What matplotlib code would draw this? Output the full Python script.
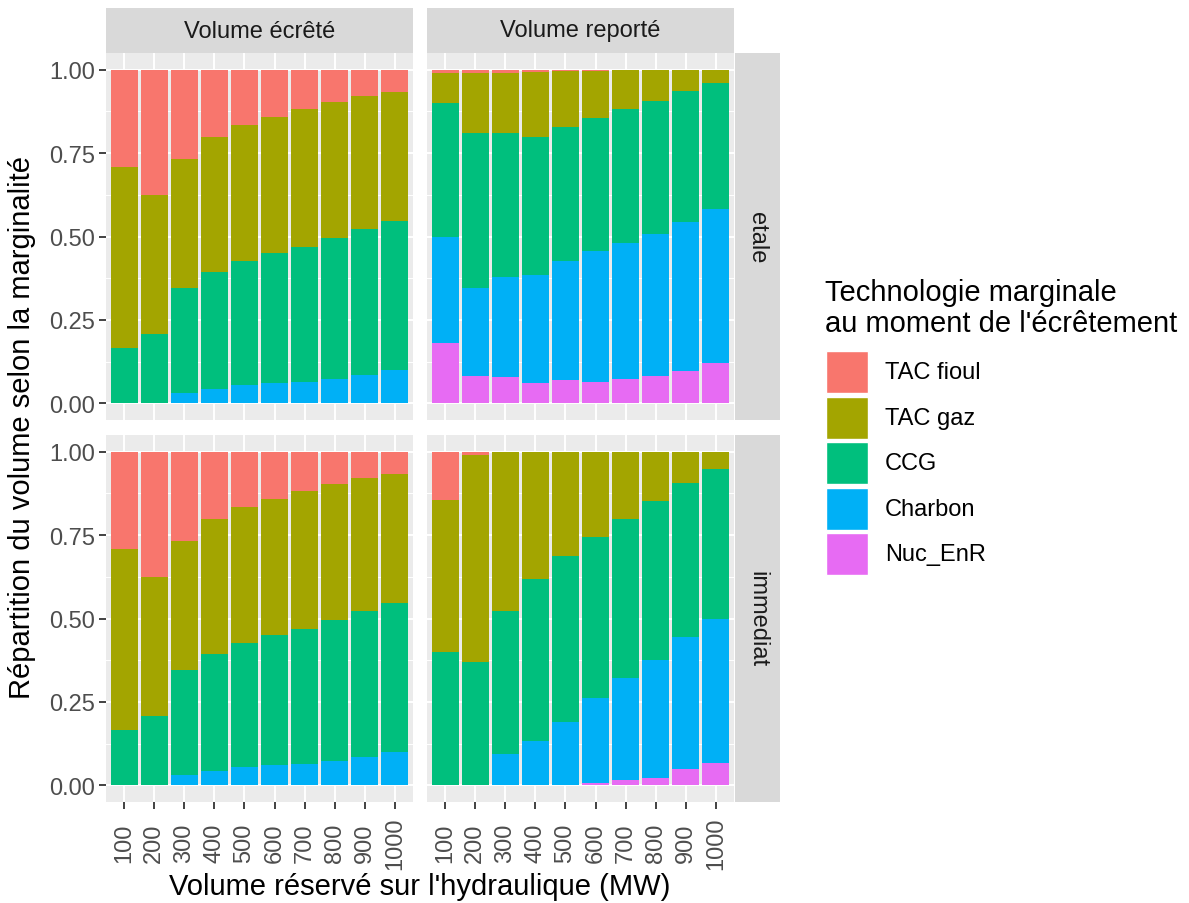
import numpy as np
import matplotlib
matplotlib.use("Agg")
import matplotlib.pyplot as plt
from matplotlib.patches import Rectangle

plt.rcParams['font.family'] = ['Liberation Sans', 'DejaVu Sans']

volumes = ['100', '200', '300', '400', '500', '600', '700', '800', '900', '1000']
technos = ['TAC fioul', 'TAC gaz', 'CCG', 'Charbon', 'Nuc_EnR']
colors = {'TAC fioul': '#F8766D', 'TAC gaz': '#A3A500', 'CCG': '#00BF7D',
          'Charbon': '#00B0F6', 'Nuc_EnR': '#E76BF3'}
columns = ['Volume écrêté', 'Volume reporté']
rows = ['etale', 'immediat']

# shares per technology
ecrete_fioul = [0.292, 0.375, 0.268, 0.203, 0.165, 0.141, 0.118, 0.097, 0.079, 0.067]
ecrete_gaz = [0.541, 0.416, 0.385, 0.402, 0.407, 0.409, 0.412, 0.406, 0.400, 0.387]
ecrete_ccg = [0.167, 0.209, 0.317, 0.351, 0.373, 0.389, 0.405, 0.423, 0.435, 0.447]
ecrete_charbon = [0.0, 0.0, 0.030, 0.044, 0.055, 0.061, 0.065, 0.074, 0.086, 0.099]
ecrete_nuc = [0.0] * 10

etale_rep_fioul = [0.009, 0.009, 0.009, 0.006, 0.004, 0.003, 0.0, 0.0, 0.0, 0.0]
etale_rep_gaz = [0.091, 0.182, 0.182, 0.195, 0.167, 0.141, 0.119, 0.094, 0.064, 0.040]
etale_rep_ccg = [0.402, 0.463, 0.429, 0.413, 0.403, 0.398, 0.400, 0.400, 0.394, 0.377]
etale_rep_charbon = [0.318, 0.265, 0.301, 0.324, 0.357, 0.393, 0.408, 0.425, 0.446, 0.461]
etale_rep_nuc = [0.180, 0.081, 0.079, 0.062, 0.069, 0.065, 0.073, 0.081, 0.096, 0.122]

immed_rep_fioul = [0.146, 0.010, 0.002, 0.0, 0.0, 0.001, 0.0, 0.0, 0.0, 0.0]
immed_rep_gaz = [0.453, 0.621, 0.475, 0.382, 0.313, 0.255, 0.202, 0.148, 0.093, 0.052]
immed_rep_ccg = [0.401, 0.369, 0.430, 0.486, 0.496, 0.482, 0.475, 0.476, 0.463, 0.448]
immed_rep_charbon = [0.0, 0.0, 0.093, 0.132, 0.191, 0.256, 0.308, 0.353, 0.396, 0.432]
immed_rep_nuc = [0.0, 0.0, 0.0, 0.0, 0.0, 0.006, 0.015, 0.023, 0.048, 0.068]

panels = {
    ('etale', 'Volume écrêté'): [ecrete_fioul, ecrete_gaz, ecrete_ccg, ecrete_charbon, ecrete_nuc],
    ('etale', 'Volume reporté'): [etale_rep_fioul, etale_rep_gaz, etale_rep_ccg, etale_rep_charbon, etale_rep_nuc],
    ('immediat', 'Volume écrêté'): [ecrete_fioul, ecrete_gaz, ecrete_ccg, ecrete_charbon, ecrete_nuc],
    ('immediat', 'Volume reporté'): [immed_rep_fioul, immed_rep_gaz, immed_rep_ccg, immed_rep_charbon, immed_rep_nuc],
}

W, H = 1189, 904
fig = plt.figure(figsize=(W / 100, H / 100), dpi=100)


def box(x0, y0, x1, y1):
    # pixel box -> figure fraction rect
    return [x0 / W, 1 - y1 / H, (x1 - x0) / W, (y1 - y0) / H]


col_x = [(106, 413), (427, 734)]
row_y = [(54, 421), (436, 803)]
tick_col = '#4D4D4D'
fs_small = 17
fs_big = 21

for i, r in enumerate(rows):
    for j, c in enumerate(columns):
        ax = fig.add_axes(box(col_x[j][0], row_y[i][0], col_x[j][1], row_y[i][1]))
        ax.set_facecolor('#EBEBEB')
        x = np.arange(1, len(volumes) + 1)
        vals = panels[(r, c)]
        bottom = np.zeros(len(volumes))
        # stack from Nuc_EnR at the bottom up to TAC fioul
        for k in range(len(technos) - 1, -1, -1):
            v = np.array(vals[k])
            ax.bar(x, v, width=0.9, bottom=bottom, color=colors[technos[k]],
                   linewidth=0, zorder=3)
            bottom = bottom + v
        ax.set_xlim(0.4, 10.6)
        ax.set_ylim(-0.05, 1.05)
        ax.set_xticks(x)
        ax.set_yticks([0, 0.25, 0.5, 0.75, 1.0])
        ax.set_yticks([0.125, 0.375, 0.625, 0.875], minor=True)
        ax.grid(which='major', color='white', linewidth=1.4, zorder=1)
        ax.grid(which='minor', axis='y', color='white', linewidth=0.7, zorder=1)
        ax.set_axisbelow(True)
        for s in ax.spines.values():
            s.set_visible(False)
        ax.tick_params(which='minor', length=0)
        ax.tick_params(which='major', color='#333333', width=1.3, length=4.8,
                       labelcolor=tick_col, labelsize=fs_small)
        if j == 0:
            ax.set_yticklabels(['0.00', '0.25', '0.50', '0.75', '1.00'])
            ax.tick_params(axis='y', pad=3)
        else:
            ax.tick_params(axis='y', length=0, labelleft=False)
        if i == 1:
            ax.set_xticklabels(volumes, rotation=90, va='center', ha='center')
            ax.tick_params(axis='x', pad=24.5)
        else:
            ax.tick_params(axis='x', length=0, labelbottom=False)

        if i == 0:
            sax = fig.add_axes(box(col_x[j][0], 9, col_x[j][1], 54))
            sax.set_facecolor('#D9D9D9')
            sax.set_xticks([])
            sax.set_yticks([])
            for s in sax.spines.values():
                s.set_visible(False)
            sax.text(0.5, 0.5, c, ha='center', va='center', fontsize=fs_small,
                     color='#1A1A1A', transform=sax.transAxes)
    rax = fig.add_axes(box(735, row_y[i][0], 780, row_y[i][1]))
    rax.set_facecolor('#D9D9D9')
    rax.set_xticks([])
    rax.set_yticks([])
    for s in rax.spines.values():
        s.set_visible(False)
    rax.text(0.5, 0.5, r, ha='center', va='center', rotation=-90, fontsize=fs_small,
             color='#1A1A1A', transform=rax.transAxes)

fig.text(22 / W, 1 - 428 / H, 'Répartition du volume selon la marginalité', rotation=90,
         ha='center', va='center', fontsize=fs_big, color='black')
fig.text(420 / W, 1 - 887 / H, "Volume réservé sur l'hydraulique (MW)",
         ha='center', va='center', fontsize=fs_big, color='black')

# legend
fig.text(825 / W, 1 - 279 / H, "Technologie marginale\nau moment de l'écrêtement",
         ha='left', va='top', fontsize=fs_big, color='black', linespacing=1.12)
key_top = 352
for k, t in enumerate(technos):
    y0 = key_top + k * 45.6
    rect = Rectangle((826 / W, 1 - (y0 + 42) / H), 42 / W, 42 / H,
                     transform=fig.transFigure, facecolor=colors[t],
                     edgecolor='white', linewidth=1)
    fig.patches.append(rect)
    fig.text(885 / W, 1 - (y0 + 21) / H, t, ha='left', va='center',
             fontsize=fs_small, color='black')

fig.savefig('out.png', dpi=100)
